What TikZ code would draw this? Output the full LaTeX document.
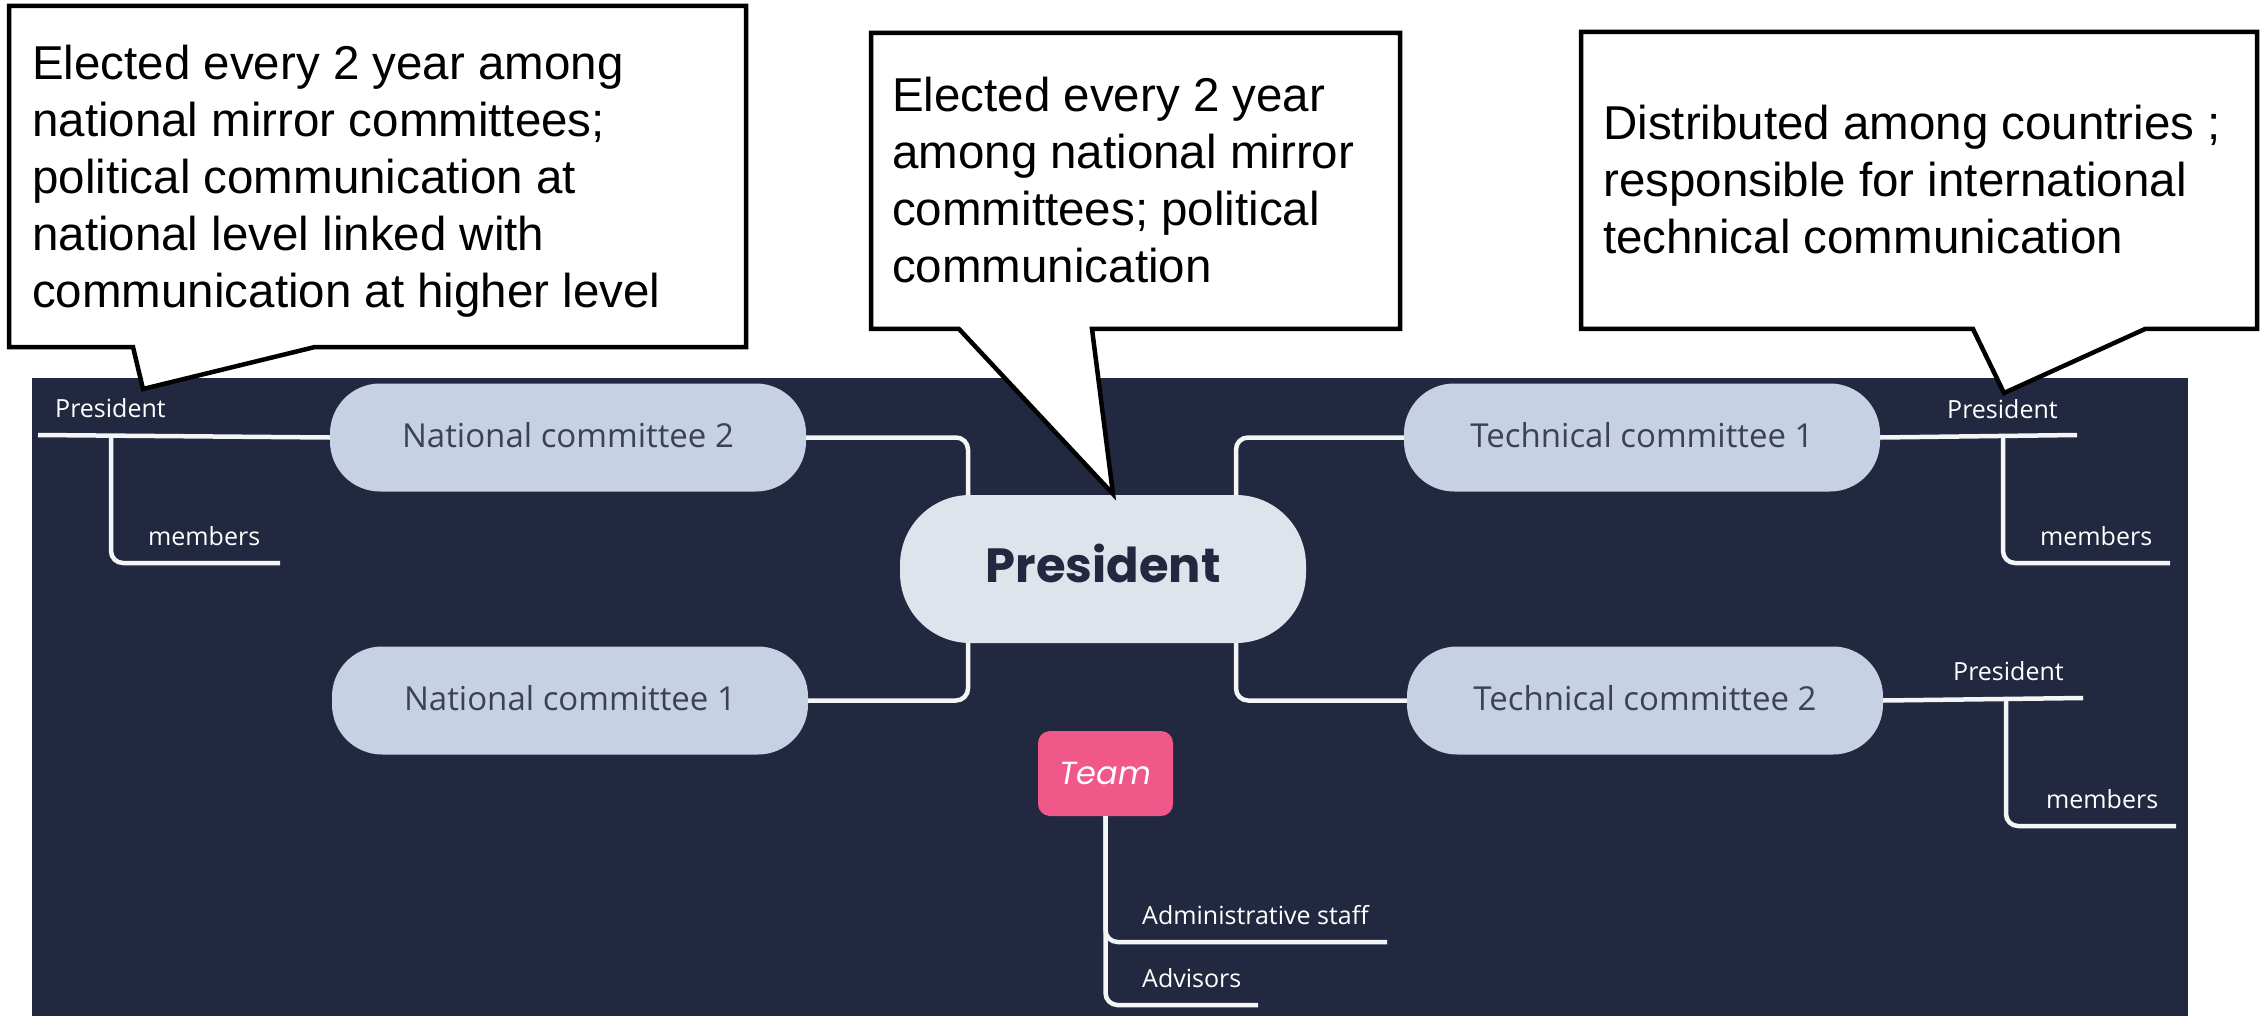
\documentclass[tikz,border=0pt]{standalone}
\usepackage{fontspec}
\setmainfont{Liberation Sans}
\newfontfamily\osans{Open Sans}
\newfontfamily\pop{Poppins}
\definecolor{panelbg}{HTML}{22283F}
\definecolor{cfill}{HTML}{C6D2E4}
\definecolor{pfill}{HTML}{DFE3EC}
\definecolor{ctext}{HTML}{3B4254}
\definecolor{ptext}{HTML}{222840}
\definecolor{teamc}{HTML}{EF5889}
\definecolor{linec}{HTML}{F4F5F7}
\begin{document}
\begin{tikzpicture}[x=1pt,y=-1pt,
  cnode/.style={fill=cfill, rounded corners=50pt, minimum width=476pt, minimum height=108pt,
    inner sep=0pt, text height=24pt, text depth=5pt, text=ctext, font=\osans\fontsize{33}{40}\selectfont},
  pnode/.style={fill=pfill, rounded corners=70pt, minimum width=406pt, minimum height=148pt,
    inner sep=0pt, text height=34pt, text depth=8pt, text=ptext, font=\pop\bfseries\fontsize{48}{58}\selectfont},
  teamnode/.style={fill=teamc, rounded corners=12pt, minimum width=135pt, minimum height=85pt,
    inner sep=0pt, text height=22pt, text depth=0pt, text=white, font=\pop\itshape\fontsize{32}{38}\selectfont},
  lbl/.style={text=white, font=\osans\fontsize{25}{30}\selectfont, inner sep=0pt, anchor=base west},
  conn/.style={draw=linec, line width=4.5pt, rounded corners=12pt},
  bubble/.style={fill=white, draw=black, line width=4.5pt},
  btext/.style={inner sep=0pt, anchor=base west, font=\fontsize{47.5}{57}\selectfont},
]
% page and dark canvas
\fill[white] (0,0) rectangle (2265,1016);
\useasboundingbox (0,0) rectangle (2265,1016);
\fill[panelbg] (32,378) rectangle (2188,1016);

% central topic and committees
\node[pnode] (pres) at (1103,569) {President};
\node[cnode] (nc2) at (568,437.5) {National committee 2};
\node[cnode] (nc1) at (570,700.5) {National committee 1};
\node[cnode] (tc1) at (1642,437.5) {Technical committee 1};
\node[cnode] (tc2) at (1645,700.5) {Technical committee 2};
\node[teamnode] (team) at (1105.5,773.5) {Team};

\draw[conn] ([xshift=-135pt]pres.north) |- (nc2.east);
\draw[conn] ([xshift=-135pt]pres.south) |- (nc1.east);
\draw[conn] ([xshift=133pt]pres.north) |- (tc1.west);
\draw[conn] ([xshift=133pt]pres.south) |- (tc2.west);

% sub-branches of National committee 2
\coordinate (nc2p) at (38,435);
\coordinate (nc2j) at (111,435);
\coordinate (nc2m) at (280,563);
\draw[conn] (nc2.west) -- (nc2p);
\draw[conn] (nc2j) |- (nc2m);
\node[lbl] (nc2pres) at (55,417) {President};
\node[lbl] (nc2mem) at (148,545) {members};

% sub-branches of Technical committee 1
\coordinate (tc1p) at (2077,435);
\coordinate (tc1j) at (2003,435);
\coordinate (tc1m) at (2170,563);
\draw[conn] (tc1.east) -- (tc1p);
\draw[conn] (tc1j) |- (tc1m);
\node[lbl] (tc1pres) at (1947,418) {President};
\node[lbl] (tc1mem) at (2040,545) {members};

% sub-branches of Technical committee 2
\coordinate (tc2p) at (2083,698);
\coordinate (tc2j) at (2006,698);
\coordinate (tc2m) at (2176,826);
\draw[conn] (tc2.east) -- (tc2p);
\draw[conn] (tc2j) |- (tc2m);
\node[lbl] (tc2pres) at (1953,680) {President};
\node[lbl] (tc2mem) at (2046,808) {members};

% team branches
\coordinate (adm) at (1387,942);
\coordinate (adv) at (1258,1005);
\draw[conn] (team.south) |- (adm);
\draw[conn] (team.south) |- (adv);
\node[lbl] (admtxt) at (1142,924) {Administrative staff};
\node[lbl] (advtxt) at (1142,987) {Advisors};

% callouts
\draw[bubble] (9,6) -- (746,6) -- (746,347) -- (315,347) -- (143,389) -- (133,347) -- (9,347) -- cycle;
\node[btext] (note1) at (32,80) {\parbox[t]{720pt}{\raggedright
  Elected every 2 year among\\
  national mirror committees;\\
  political communication at\\
  national level linked with\\
  communication at higher level}};

\draw[bubble] (871,33) -- (1400,33) -- (1400,329) -- (1092,329) -- (1113,494) -- (959,329) -- (871,329) -- cycle;
\node[btext] (note2) at (892,112) {\parbox[t]{500pt}{\raggedright
  Elected every 2 year\\
  among national mirror\\
  committees; political\\
  communication}};

\draw[bubble] (1581,32) -- (2257,32) -- (2257,329) -- (2145,329) -- (2004,393) -- (1973,329) -- (1581,329) -- cycle;
\node[btext] (note3) at (1603,140) {\parbox[t]{650pt}{\raggedright
  Distributed among countries ;\\
  responsible for international\\
  technical communication}};
\end{tikzpicture}
\end{document}
